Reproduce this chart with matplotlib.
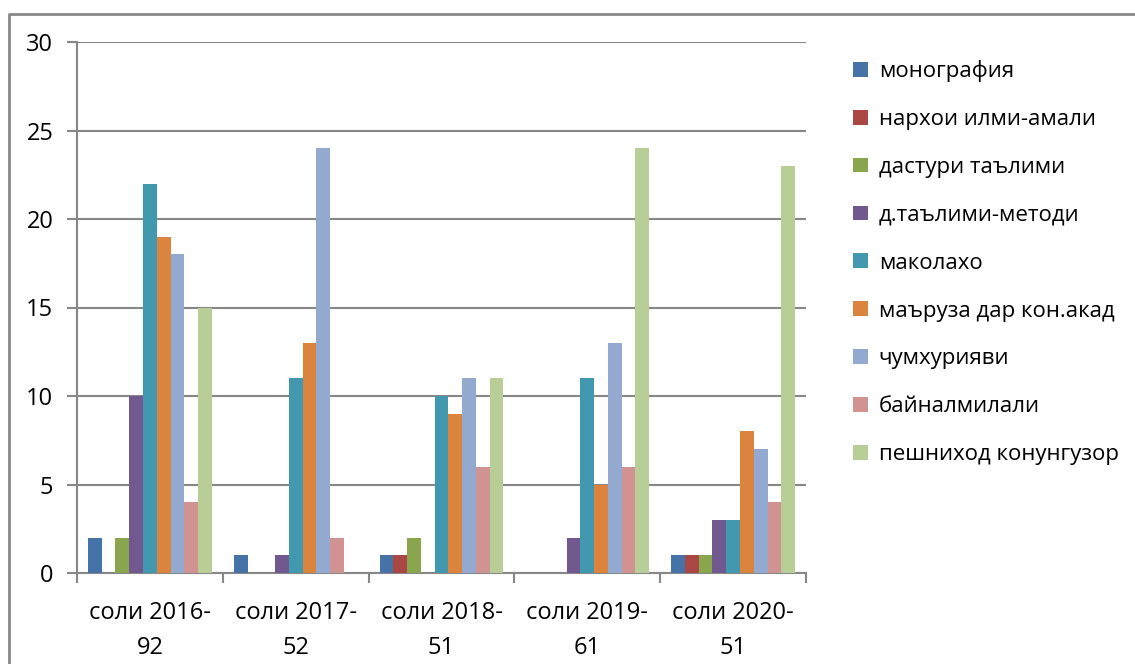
import matplotlib
matplotlib.use('Agg')
import matplotlib.pyplot as plt
import numpy as np

plt.rcParams['font.family'] = ['Open Sans', 'DejaVu Sans']

categories = ['соли 2016-\n92', 'соли 2017-\n52', 'соли 2018-\n51', 'соли 2019-\n61', 'соли 2020-\n51']
series = ['монография', 'нархои илми-амали', 'дастури таълими', 'д.таълими-методи',
          'маколахо', 'маъруза дар кон.акад', 'чумхурияви', 'байналмилали', 'пешниход конунгузор']
monografiya = [2, 1, 1, 0, 1]
narkhoi = [0, 0, 1, 0, 1]
dasturi = [2, 0, 2, 0, 1]
d_talimi = [10, 1, 0, 2, 3]
makolakho = [22, 11, 10, 11, 3]
maruza = [19, 13, 9, 5, 8]
chumkhuriyavi = [18, 24, 11, 13, 7]
baynalmilali = [4, 2, 6, 6, 4]
peshnikhod = [15, 0, 11, 24, 23]
values = [monografiya, narkhoi, dasturi, d_talimi, makolakho, maruza,
          chumkhuriyavi, baynalmilali, peshnikhod]
colors = ['#4572A7', '#AA4643', '#89A54E', '#71588F', '#4198AF',
          '#DB843D', '#93A9CF', '#D19392', '#B9CD96']

fig = plt.figure(figsize=(11.35, 6.64), dpi=100)
ax = fig.add_axes([77/1135, 1-573/664, (806-77)/1135, (573-42)/664])

n = len(series)
gap = 0.15
w = (1 - gap) / n
x = np.arange(len(categories))
for i, (name, vals) in enumerate(zip(series, values)):
    ax.bar(x - 0.5 + gap/2 + w*(i+0.5), vals, width=w, color=colors[i], label=name, zorder=3)

grey = '#878787'
ax.set_xlim(-0.5, len(categories)-0.5)
ax.set_ylim(0, 30)
ax.set_yticks(range(0, 31, 5))
ax.yaxis.grid(True, color=grey, linewidth=1.5, zorder=0)
ax.set_xticks(np.arange(-0.5, len(categories), 1))
ax.set_xticklabels([])
ax.set_xticks(x, minor=True)
ax.set_xticklabels(categories, minor=True, fontsize=17, linespacing=1.6)
ax.tick_params(axis='x', which='minor', length=0, pad=20)
ax.tick_params(axis='x', which='major', length=7, width=1.5, color=grey, direction='out')
ax.tick_params(axis='y', length=7, width=1.5, color=grey, labelsize=17, pad=10)
for s in ['top', 'right']:
    ax.spines[s].set_visible(False)
for s in ['left', 'bottom']:
    ax.spines[s].set_color(grey)
    ax.spines[s].set_linewidth(1.5)

ax.legend(loc='upper left', bbox_to_anchor=(842/1135, 1-49/664), bbox_transform=fig.transFigure,
          frameon=False, fontsize=16, handlelength=0.65, handleheight=0.65,
          labelspacing=1.21, handletextpad=0.5, borderpad=0)

# outer frame (left and top edges)
fig.add_artist(plt.Line2D([9/1135, 9/1135, 1], [0, 1-14/664, 1-14/664],
                          transform=fig.transFigure, color=grey, linewidth=2))

fig.savefig('out.png', dpi=100)
